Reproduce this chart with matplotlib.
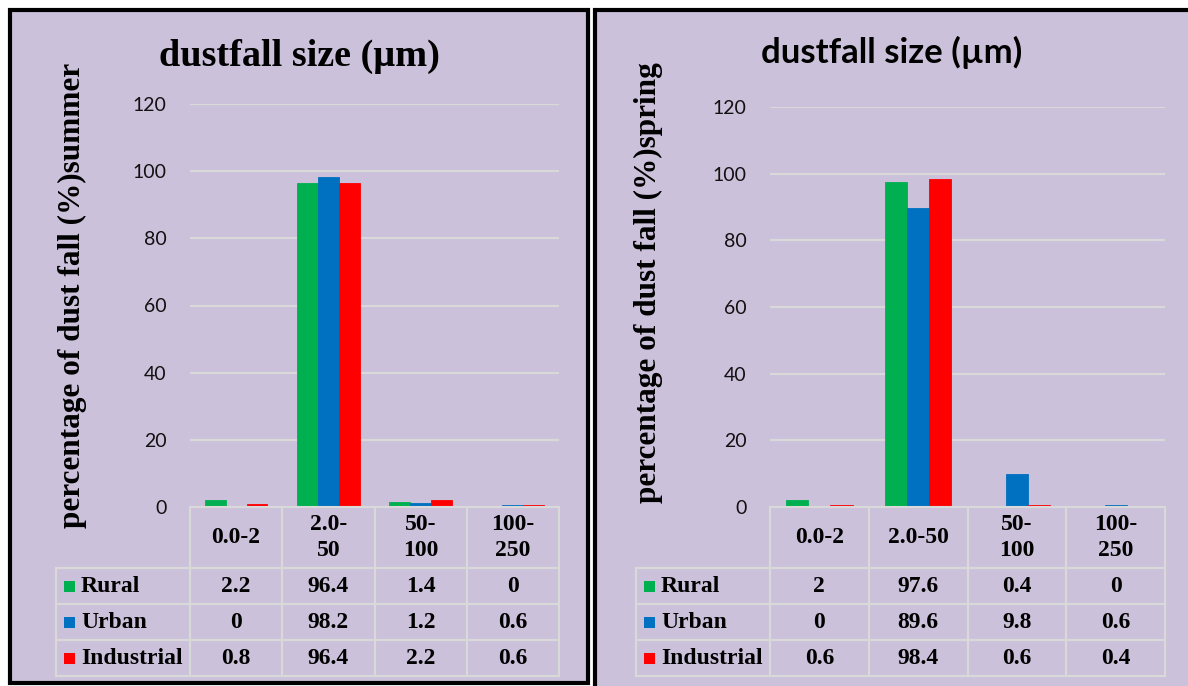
import matplotlib
matplotlib.use("Agg")
import matplotlib.pyplot as plt
from matplotlib.patches import Rectangle
from matplotlib.lines import Line2D

W, H = 1188, 686

# ---- data -------------------------------------------------------------
series_names = ["Rural", "Urban", "Industrial"]
series_colors = ["#00B050", "#0070C0", "#FF0000"]

summer_categories = ["0.0-2", "2.0-\n50", "50-\n100", "100-\n250"]
summer_rural = [2.2, 96.4, 1.4, 0]
summer_urban = [0, 98.2, 1.2, 0.6]
summer_industrial = [0.8, 96.4, 2.2, 0.6]

spring_categories = ["0.0-2", "2.0-50", "50-\n100", "100-\n250"]
spring_rural = [2, 97.6, 0.4, 0]
spring_urban = [0, 89.6, 9.8, 0.6]
spring_industrial = [0.6, 98.4, 0.6, 0.4]

y_ticks = [0, 20, 40, 60, 80, 100, 120]

panel_title = "dustfall size (\u00b5m)"
summer_ylabel = "percentage of dust fall (%)summer"
spring_ylabel = "percentage of dust fall (%)spring"

# ---- styling ----------------------------------------------------------
BG = "#CCC1DA"
GRID = "#D9D9D9"
SERIF = "Liberation Serif"
SANS = "Lato"
TABLE_SIZE = 17

fig = plt.figure(figsize=(W / 100, H / 100), dpi=100)
fig.patch.set_facecolor("white")
T = fig.transFigure


def fx(x):
    return x / W


def fy(y):
    return 1 - y / H


def hline(x0, x1, y):
    fig.add_artist(Line2D([fx(x0), fx(x1)], [fy(y), fy(y)], transform=T,
                          color=GRID, lw=1.5, zorder=3))


def vline(x, y0, y1):
    fig.add_artist(Line2D([fx(x), fx(x)], [fy(y0), fy(y1)], transform=T,
                          color=GRID, lw=1.5, zorder=3))


def panel(box, ax_box, cats, values, ylabel, ylab_xy, title_xy, title_font,
          title_size, tick_pad, label_left, square_x, text_x):
    # panel background with heavy black frame
    x0, y0, x1, y1 = box
    fig.add_artist(Rectangle((fx(x0), fy(y1)), fx(x1) - fx(x0), fy(y0) - fy(y1),
                             transform=T, facecolor=BG, edgecolor="black",
                             lw=3.0, zorder=0))

    ax_l, ax_t, ax_r, ax_b = ax_box
    ax = fig.add_axes([fx(ax_l), fy(ax_b), fx(ax_r) - fx(ax_l), fy(ax_t) - fy(ax_b)])
    ax.set_facecolor("none")
    n = len(cats)
    bw = 0.225
    for i, (vals, col) in enumerate(zip(values, series_colors)):
        xs = [k + (i - 1) * bw for k in range(n)]
        ax.bar(xs, vals, width=bw, color=col, edgecolor=col, linewidth=0.6,
               zorder=2)
    ax.set_xlim(-0.5, n - 0.5)
    ax.set_ylim(0, 120)
    ax.set_yticks(y_ticks)
    ax.set_yticklabels([str(t) for t in y_ticks], family=SANS, fontsize=14,
                       color="#111111")
    ax.tick_params(axis="y", length=0, pad=tick_pad)
    ax.set_xticks([])
    for s in ax.spines.values():
        s.set_visible(False)
    ax.grid(axis="y", color=GRID, lw=1.5, zorder=1)
    ax.set_axisbelow(True)

    # title and y label
    fig.text(fx(title_xy[0]), fy(title_xy[1]), panel_title, transform=T,
             ha="center", va="center", family=title_font, weight="bold",
             fontsize=title_size)
    fig.text(fx(ylab_xy[0]), fy(ylab_xy[1]), ylabel, transform=T, rotation=90,
             ha="center", va="center", family=SERIF, weight="bold",
             fontsize=22.5)

    # data table under the plot
    col_edges = [ax_l + (ax_r - ax_l) * k / n for k in range(n + 1)]
    row_edges = [ax_b, 568, 604, 640, 676]
    hline(ax_l, ax_r, row_edges[0])
    for y in row_edges[1:]:
        hline(label_left, ax_r, y)
    for x in col_edges:
        vline(x, row_edges[0], row_edges[-1])
    vline(label_left, row_edges[1], row_edges[-1])

    hy = (row_edges[0] + row_edges[1]) / 2
    for k, c in enumerate(cats):
        cx = (col_edges[k] + col_edges[k + 1]) / 2
        fig.text(fx(cx), fy(hy), c, transform=T, ha="center", va="center",
                 family=SERIF, weight="bold", fontsize=TABLE_SIZE,
                 linespacing=1.3)

    for r, (name, col, vals) in enumerate(zip(series_names, series_colors, values)):
        cy = (row_edges[r + 1] + row_edges[r + 2]) / 2
        fig.add_artist(Rectangle((fx(square_x), fy(cy + 5.5)), fx(11), 11 / H,
                                 transform=T, facecolor=col, edgecolor="none",
                                 zorder=4))
        fig.text(fx(text_x), fy(cy), name, transform=T, ha="left", va="center",
                 family=SERIF, weight="bold", fontsize=TABLE_SIZE)
        for k, v in enumerate(vals):
            cx = (col_edges[k] + col_edges[k + 1]) / 2
            fig.text(fx(cx), fy(cy), f"{v:g}", transform=T, ha="center",
                     va="center", family=SERIF, weight="bold",
                     fontsize=TABLE_SIZE)
    return ax


panel(box=(10, 10, 588, 683), ax_box=(190, 104, 559, 507),
      cats=summer_categories,
      values=[summer_rural, summer_urban, summer_industrial],
      ylabel=summer_ylabel, ylab_xy=(72, 295), title_xy=(299, 56),
      title_font=SERIF, title_size=27.5, tick_pad=17,
      label_left=56, square_x=64, text_x=81)

panel(box=(595, 10, 1200, 700), ax_box=(770, 107, 1165, 507),
      cats=spring_categories,
      values=[spring_rural, spring_urban, spring_industrial],
      ylabel=spring_ylabel, ylab_xy=(648, 283), title_xy=(892, 52),
      title_font=SANS, title_size=25, tick_pad=17,
      label_left=636, square_x=644, text_x=661)

fig.savefig("out.png", dpi=100, facecolor=fig.get_facecolor())
